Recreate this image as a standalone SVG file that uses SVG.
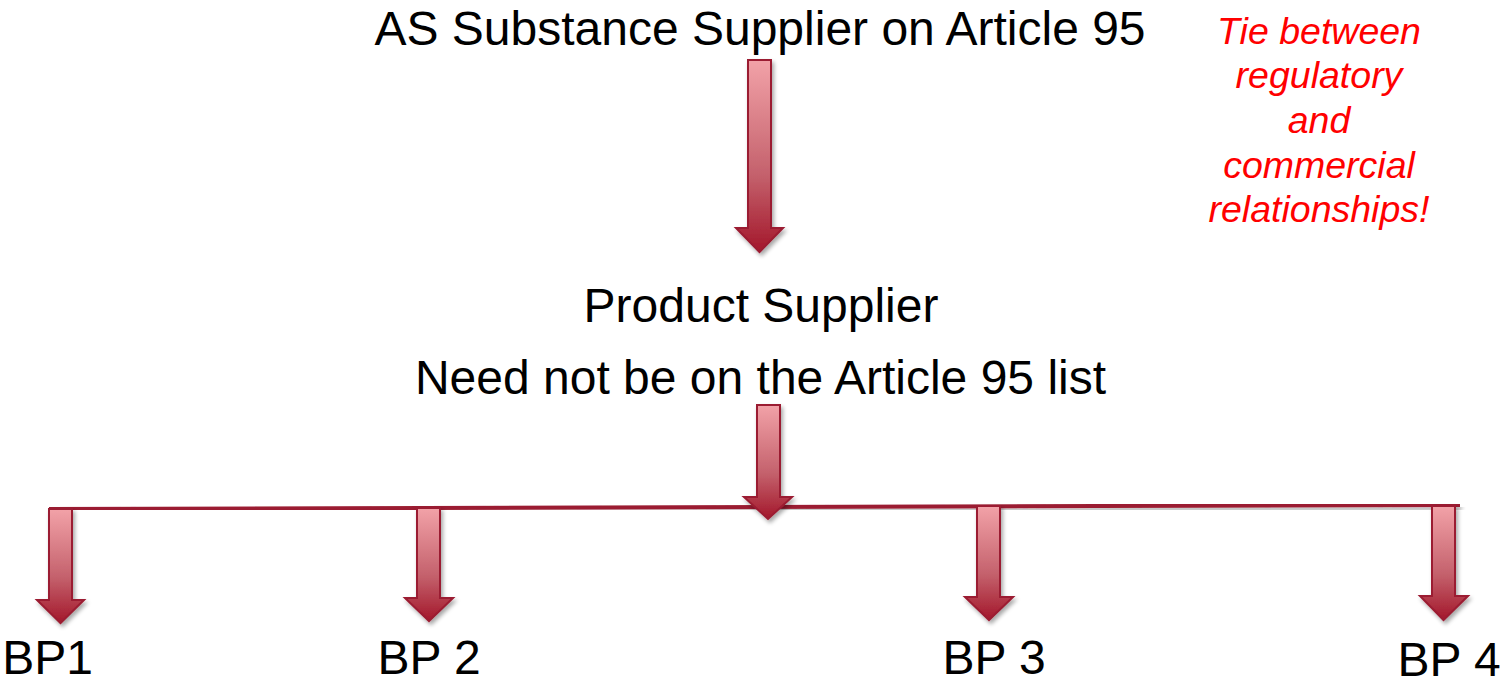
<svg xmlns="http://www.w3.org/2000/svg" width="1508" height="678" viewBox="0 0 1508 678">
<style>
.t{font-family:"Liberation Sans",Arial,sans-serif;font-size:48px;fill:#000;text-anchor:middle}
.r{font-family:"Liberation Sans",Arial,sans-serif;font-size:37.5px;font-style:italic;fill:#ff0000;text-anchor:middle}
.arr{fill:url(#g);stroke:#9b1c31;stroke-width:2;stroke-linejoin:miter;filter:url(#sh)}
</style>
<defs>
<linearGradient id="g" x1="0" y1="0" x2="0" y2="1">
<stop offset="0" stop-color="#f2a2a8"/>
<stop offset="0.6" stop-color="#c4616c"/>
<stop offset="1" stop-color="#a3172b"/>
</linearGradient>
<filter id="sh" x="-50%" y="-10%" width="200%" height="130%">
<feGaussianBlur in="SourceAlpha" stdDeviation="2"/>
<feOffset dx="2" dy="3"/>
<feComponentTransfer><feFuncA type="linear" slope="0.35"/></feComponentTransfer>
<feMerge><feMergeNode/><feMergeNode in="SourceGraphic"/></feMerge>
</filter>
</defs>
<g id="title"><text class="t" x="760" y="45">AS Substance Supplier on Article 95</text></g>
<g id="note">
<text class="r" x="1319" y="44">Tie between</text>
<text class="r" x="1319" y="88">regulatory</text>
<text class="r" x="1319" y="133">and</text>
<text class="r" x="1319" y="178">commercial</text>
<text class="r" x="1319" y="222">relationships!</text>
</g>
<g id="product-supplier">
<text class="t" x="761" y="322">Product Supplier</text>
<text class="t" x="760.5" y="394">Need not be on the Article 95 list</text>
</g>
<g id="connectors">
<path d="M49 509 L1460 505" stroke="#9b1c31" stroke-width="4" fill="none" filter="url(#sh)"/>
<path class="arr" d="M748 60 H771 V228 H783 L759.5 252 L736 228 H748 Z"/>
<path class="arr" d="M757 405 H780 V497 H792 L768 519 L744 497 H757 Z"/>
<path class="arr" d="M49 509 H72 V600 H84 L60.5 623 L37 600 H49 Z"/>
<path class="arr" d="M417 508 H440 V598 H453 L429 621 L405 598 H417 Z"/>
<path class="arr" d="M977 506 H1000 V597 H1013 L989 620 L965 597 H977 Z"/>
<path class="arr" d="M1432 506 H1455 V596 H1468 L1443.5 620 L1420 596 H1432 Z"/>
</g>
<g id="bp1"><text class="t" x="47.5" y="674">BP1</text></g>
<g id="bp2"><text class="t" x="429" y="674">BP 2</text></g>
<g id="bp3"><text class="t" x="994" y="674">BP 3</text></g>
<g id="bp4"><text class="t" x="1449" y="676">BP 4</text></g>
</svg>
